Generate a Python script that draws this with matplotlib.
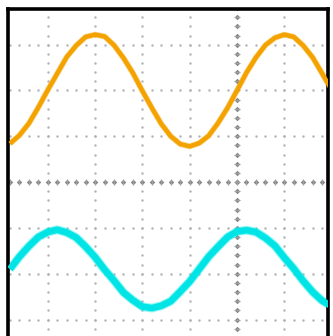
import numpy as np
import matplotlib
matplotlib.use("Agg")
import matplotlib.pyplot as plt

# sample positions (divisions, 0 = screen centre)
x_div = [-4.8, -4.6, -4.4, -4.2, -4.0, -3.8, -3.6, -3.4, -3.2, -3.0,
         -2.8, -2.6, -2.4, -2.2, -2.0, -1.8, -1.6, -1.4, -1.2, -1.0,
         -0.8, -0.6, -0.4, -0.2, 0.0, 0.2, 0.4, 0.6, 0.8, 1.0,
         1.2, 1.4, 1.6, 1.8, 2.0]

# channel 1 (orange)
ch1 = [0.84, 1.02, 1.28, 1.63, 2.01, 2.37, 2.73, 2.98, 3.17, 3.22,
       3.18, 2.99, 2.71, 2.38, 1.99, 1.62, 1.27, 1.00, 0.83, 0.78,
       0.85, 1.01, 1.29, 1.62, 2.00, 2.39, 2.72, 2.99, 3.15, 3.22,
       3.17, 2.98, 2.72, 2.37, 2.01]

# channel 2 (cyan)
ch2 = [-1.90, -1.63, -1.40, -1.20, -1.09, -1.04, -1.10, -1.21, -1.41, -1.64,
       -1.91, -2.15, -2.41, -2.58, -2.72, -2.75, -2.70, -2.60, -2.39, -2.17,
       -1.90, -1.63, -1.41, -1.20, -1.08, -1.05, -1.09, -1.22, -1.39, -1.65,
       -1.89, -2.16, -2.40, -2.59, -2.71]

fig = plt.figure(figsize=(3.33, 3.36), dpi=100)
ax = fig.add_axes([0.0255, 0.0, 0.959, 0.9747])
ax.set_xlim(-4.83, 1.92)
ax.set_ylim(-3.36, 3.79)

# dotted graticule
fine = np.arange(-6, 6.01, 0.2)
for k in range(-5, 3):
    if k == 0:
        continue
    ax.scatter(np.full(fine.size, k), fine, s=3, color="#b0b0b8", lw=0, zorder=1)
for k in range(-4, 5):
    if k == 0:
        continue
    ax.scatter(fine, np.full(fine.size, k), s=3, color="#b0b0b8", lw=0, zorder=1)
# centre lines, heavier
ax.scatter(np.zeros(fine.size), fine, s=8, marker="D", color="#888888", lw=0, zorder=1)
ax.scatter(fine, np.zeros(fine.size), s=8, marker="D", color="#888888", lw=0, zorder=1)
ax.scatter(np.zeros(fine.size), fine, s=14, marker="_", color="#a0a0a0", lw=0.8, zorder=1)
ax.scatter(fine, np.zeros(fine.size), s=14, marker="|", color="#a0a0a0", lw=0.8, zorder=1)

# traces
ax.plot(x_div, ch1, color="#f5a800", lw=4.2, alpha=0.45, solid_capstyle="butt", zorder=2)
ax.plot(x_div, ch1, color="#f3a200", lw=3.2, solid_capstyle="butt", zorder=3)
ax.plot(x_div, ch2, color="#20eef0", lw=6.4, alpha=0.45, solid_capstyle="butt", zorder=2)
ax.plot(x_div, ch2, color="#00e4e6", lw=4.8, solid_capstyle="butt", zorder=3)

ax.set_xticks([])
ax.set_yticks([])
ax.spines["bottom"].set_visible(False)
for s in ["left", "top", "right"]:
    ax.spines[s].set_linewidth(2.6)
    ax.spines[s].set_color("black")

fig.savefig("out.png", dpi=100)
